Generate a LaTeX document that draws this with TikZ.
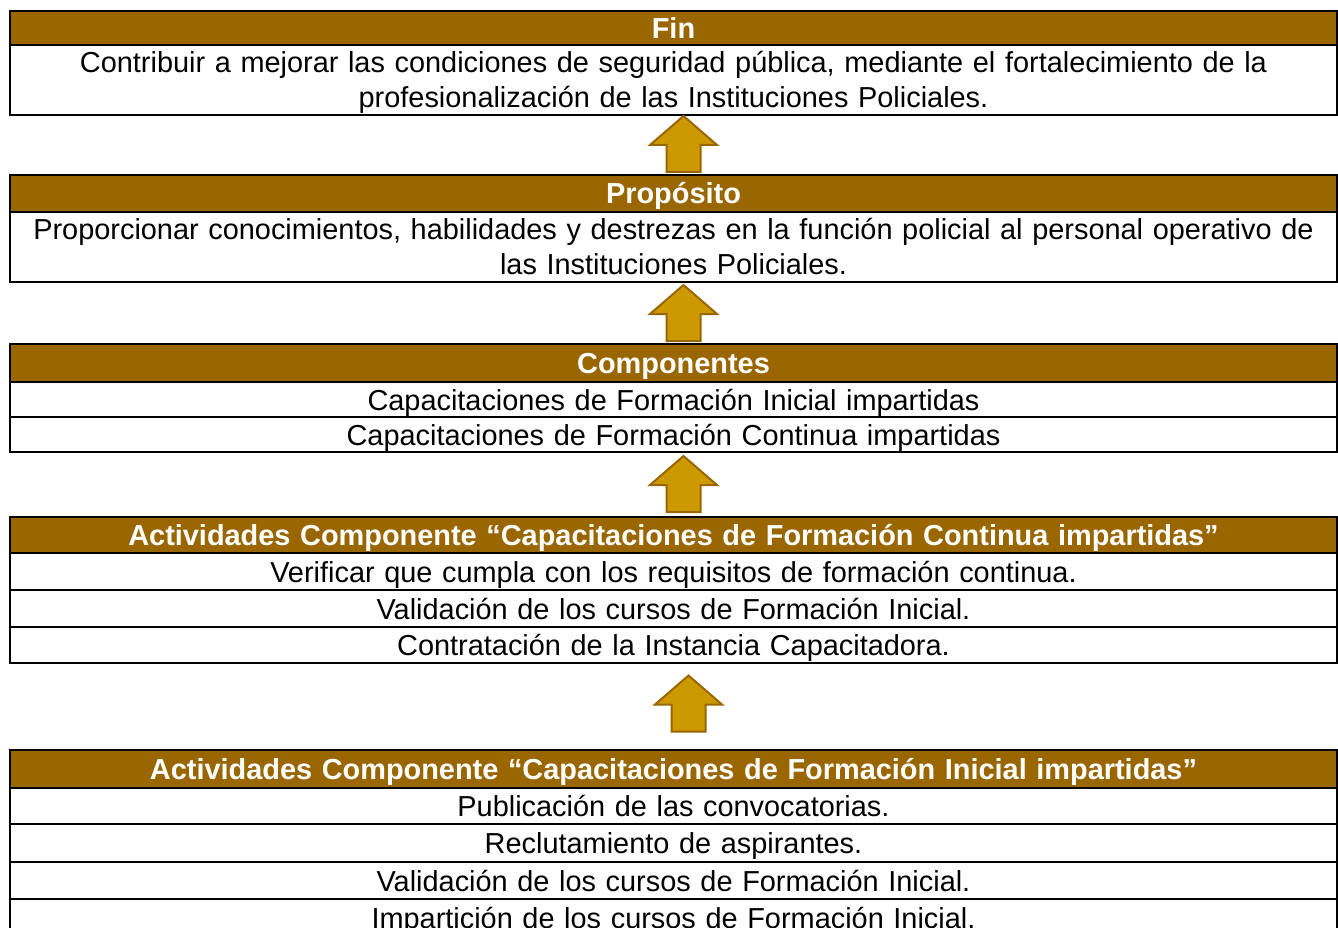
\documentclass[tikz,border=0pt]{standalone}
\usepackage{fontspec}
\setmainfont{Liberation Sans}
\usetikzlibrary{calc}

\definecolor{cafe}{HTML}{996600}
\definecolor{oro}{HTML}{CC9900}

\tikzset{
  fila/.style={draw=black, line width=2.5pt, minimum width=1327pt, inner sep=0pt,
    text width=1310pt, align=center, text height=21pt, text depth=0pt,
    font=\fontsize{28.9}{35}\selectfont},
  doble/.style={fila, text depth=35pt},
  encabezado/.style={fila, fill=cafe, text=white, font=\fontsize{28.9}{35}\selectfont\bfseries},
  flecha/.style={draw=cafe, fill=oro, line width=2pt, line join=miter}
}

% flecha hacia arriba alrededor de un punto
\newcommand{\subir}[1]{%
  \draw[flecha] ([shift={(-17,28)}]#1) -- ([shift={(-17,1)}]#1) -- ([shift={(-33.5,1)}]#1)
    -- ([shift={(0,-28)}]#1) -- ([shift={(33.5,1)}]#1) -- ([shift={(17,1)}]#1)
    -- ([shift={(17,28)}]#1) -- cycle;}

\begin{document}
\begin{tikzpicture}[x=1pt,y=-1pt]
\useasboundingbox (0,0) rectangle (1338,928);

% Fin
\node[encabezado, minimum height=34pt] (finH) at (673.5,28) {Fin};
\node[doble, minimum height=70pt] (finB) at (673.5,80) {Contribuir a mejorar las condiciones de seguridad pública, mediante el fortalecimiento de la\\ profesionalización de las Instituciones Policiales.};

% Proposito
\node[encabezado, minimum height=37pt] (propH) at (673.5,193.5) {Propósito};
\node[doble, minimum height=70pt] (propB) at (673.5,247) {Proporcionar conocimientos, habilidades y destrezas en la función policial al personal operativo de\\ las Instituciones Policiales.};

% Componentes
\node[encabezado, minimum height=38pt] (compH) at (673.5,363) {Componentes};
\node[fila, minimum height=35pt] (comp1) at (673.5,399.5) {Capacitaciones de Formación Inicial impartidas};
\node[fila, minimum height=35pt] (comp2) at (673.5,434.5) {Capacitaciones de Formación Continua impartidas};

% Actividades formacion continua
\node[encabezado, minimum height=36pt] (contH) at (673.5,535) {Actividades Componente “Capacitaciones de Formación Continua impartidas”};
\node[fila, minimum height=37pt] (cont1) at (673.5,571.5) {Verificar que cumpla con los requisitos de formación continua.};
\node[fila, minimum height=37pt] (cont2) at (673.5,608.5) {Validación de los cursos de Formación Inicial.};
\node[fila, minimum height=36pt] (cont3) at (673.5,645) {Contratación de la Instancia Capacitadora.};

% Actividades formacion inicial
\node[encabezado, minimum height=38pt] (iniH) at (673.5,769) {Actividades Componente “Capacitaciones de Formación Inicial impartidas”};
\node[fila, minimum height=36pt] (ini1) at (673.5,806) {Publicación de las convocatorias.};
\node[fila, minimum height=38pt] (ini2) at (673.5,843) {Reclutamiento de aspirantes.};
\node[fila, minimum height=37pt] (ini3) at (673.5,880.5) {Validación de los cursos de Formación Inicial.};
\node[fila, minimum height=37pt] (ini4) at (673.5,917.5) {Impartición de los cursos de Formación Inicial.};

% flechas
\coordinate (f1) at (683.5,144);
\coordinate (f2) at (683.5,313);
\coordinate (f3) at (683.5,484);
\coordinate (f4) at (688.5,703.5);
\subir{f1}
\subir{f2}
\subir{f3}
\subir{f4}
\end{tikzpicture}
\end{document}
